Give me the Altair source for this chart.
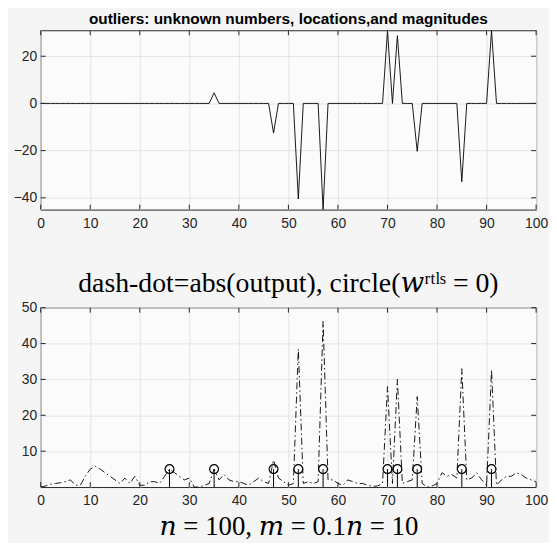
import altair as alt
import pandas as pd

# ---------------- data ----------------
x_vals = list(range(0, 101))
out_pos = [26, 35, 47, 52, 57, 70, 72, 76, 85, 91]
out_mag = [0.0, 4.5, -12.5, -40.5, -45.0, 30.8, 28.7, -20.3, -33.2, 30.8]
abs_output = [0, 0.3, 0.8, 1, 1.2, 1.5, 2, 0.5, 0.5, 3,
              5, 5.8, 5, 4, 3, 2, 1, 2.5, 1, 3,
              0.5, 0.5, 1.5, 1.5, 1, 3, 5, 4, 3, 2,
              2.5, 0, 0, 0.5, 1, 5, 2, 3.5, 2, 1.5,
              1.5, 1, 0.5, 1.5, 2.5, 1.5, 1, 7.5, 2.5, 1.5,
              0.5, 1, 38.5, 1, 1.5, 1, 1.5, 46.2, 2, 2,
              1, 0.5, 2, 1.5, 1, 1, 0.5, 0.2, 0.3, 1,
              28, 1, 30, 1, 1.5, 2, 25.2, 1, 0, 0.3,
              1, 4, 3, 3.5, 2.5, 33, 2, 2.5, 4, 2,
              0.5, 32.7, 0.5, 2, 3, 3, 4, 3.5, 2.5, 2,
              1.5]
circle_level = [5] * len(out_pos)
x_ticks = [0, 10, 20, 30, 40, 50, 60, 70, 80, 90, 100]
top_y_ticks = [-40, -20, 0, 20]
bot_y_ticks = [10, 20, 30, 40, 50]

top_vals = [0.0] * len(x_vals)
for p, m in zip(out_pos, out_mag):
    top_vals[x_vals.index(p)] = m

df_top = pd.DataFrame({"x": x_vals, "y": top_vals})
df_bot = pd.DataFrame({"x": x_vals, "y": abs_output})
df_circ = pd.DataFrame({"x": out_pos, "y": circle_level, "y0": [0] * len(out_pos)})
df_xt = pd.DataFrame({"x": x_ticks})

W, H = 500, 181
INK = "#262626"
FONT = "Liberation Sans"
SERIF = "Liberation Serif, DejaVu Serif"

xs = alt.Scale(domain=[0, 100], nice=False, zero=False)
ys_top = alt.Scale(domain=[-45, 31], nice=False, zero=False)
ys_bot = alt.Scale(domain=[0, 50], nice=False, zero=False)


def ax_x(title=None, **kw):
    args = dict(values=x_ticks, grid=True, gridColor="#e4e4e4", tickSize=0, domain=False,
                labelFont=FONT, labelFontSize=14, labelColor=INK, labelPadding=7,
                labelFlush=False)
    args.update(kw)
    args["title"] = title
    return alt.Axis(**args)


def ax_y(vals):
    return alt.Axis(values=vals, grid=True, gridColor="#e4e4e4", tickSize=0, domain=False,
                    labelFont=FONT, labelFontSize=14, labelColor=INK, labelPadding=4,
                    title=None)


def frame(yscale, yticks):
    df_yt = pd.DataFrame({"y": yticks})
    xb = alt.Chart(df_xt).mark_rule(color=INK, strokeWidth=1).encode(
        x=alt.X("x:Q", scale=xs), y=alt.value(H), y2=alt.value(H - 5))
    xt = alt.Chart(df_xt).mark_rule(color=INK, strokeWidth=1).encode(
        x=alt.X("x:Q", scale=xs), y=alt.value(0), y2=alt.value(5))
    yl = alt.Chart(df_yt).mark_rule(color=INK, strokeWidth=1).encode(
        y=alt.Y("y:Q", scale=yscale), x=alt.value(0), x2=alt.value(5))
    yr = alt.Chart(df_yt).mark_rule(color=INK, strokeWidth=1).encode(
        y=alt.Y("y:Q", scale=yscale), x=alt.value(W), x2=alt.value(W - 5))
    return [xb, xt, yl, yr]


# ---------------- top panel ----------------
top_line = alt.Chart(df_top).mark_line(color="black", strokeWidth=0.9).encode(
    x=alt.X("x:Q", scale=xs, axis=ax_x()),
    y=alt.Y("y:Q", scale=ys_top, axis=ax_y(top_y_ticks)),
)
top = alt.layer(top_line, *frame(ys_top, top_y_ticks)).properties(
    width=W, height=H,
    title=alt.TitleParams("outliers: unknown numbers, locations,and magnitudes",
                          font=FONT, fontSize=15.5, fontWeight="bold", color="black",
                          offset=2, anchor="middle"),
)

# ---------------- bottom panel ----------------
bot_line = alt.Chart(df_bot).mark_line(color="black", strokeWidth=0.9,
                                       strokeDash=[7, 3, 1.5, 3]).encode(
    x=alt.X("x:Q", scale=xs,
            axis=ax_x(title="𝑛 = 100,  𝑚 = 0.1𝑛 = 10", titleFont=SERIF,
                      titleFontSize=27, titleFontWeight="normal", titleColor="black",
                      titlePadding=6)),
    y=alt.Y("y:Q", scale=ys_bot, axis=ax_y(bot_y_ticks)),
)
stems = alt.Chart(df_circ).mark_rule(color="black", strokeWidth=1).encode(
    x=alt.X("x:Q", scale=xs), y=alt.Y("y0:Q", scale=ys_bot), y2="y:Q")
circles = alt.Chart(df_circ).mark_point(shape="circle", filled=False, color="black",
                                        strokeWidth=1.2, size=80, opacity=1).encode(
    x=alt.X("x:Q", scale=xs), y=alt.Y("y:Q", scale=ys_bot))
bot = alt.layer(bot_line, stems, circles, *frame(ys_bot, bot_y_ticks)).properties(
    width=W, height=H,
    title=alt.TitleParams("dash-dot=abs(output), circle(𝑤ʳᵗˡˢ = 0)",
                          font=SERIF, fontSize=28, fontWeight="normal",
                          color="black", offset=3, anchor="middle"),
)

chart = alt.vconcat(top, bot, spacing=38).properties(
    padding={"left": 4, "top": 0, "right": 0, "bottom": 0}
).configure(
    background="#f5f5f5"
).configure_view(
    stroke=INK, strokeWidth=1, fill="#fbfbfb"
)

chart.save("out.html", embed_options={"renderer": "svg", "actions": False})
